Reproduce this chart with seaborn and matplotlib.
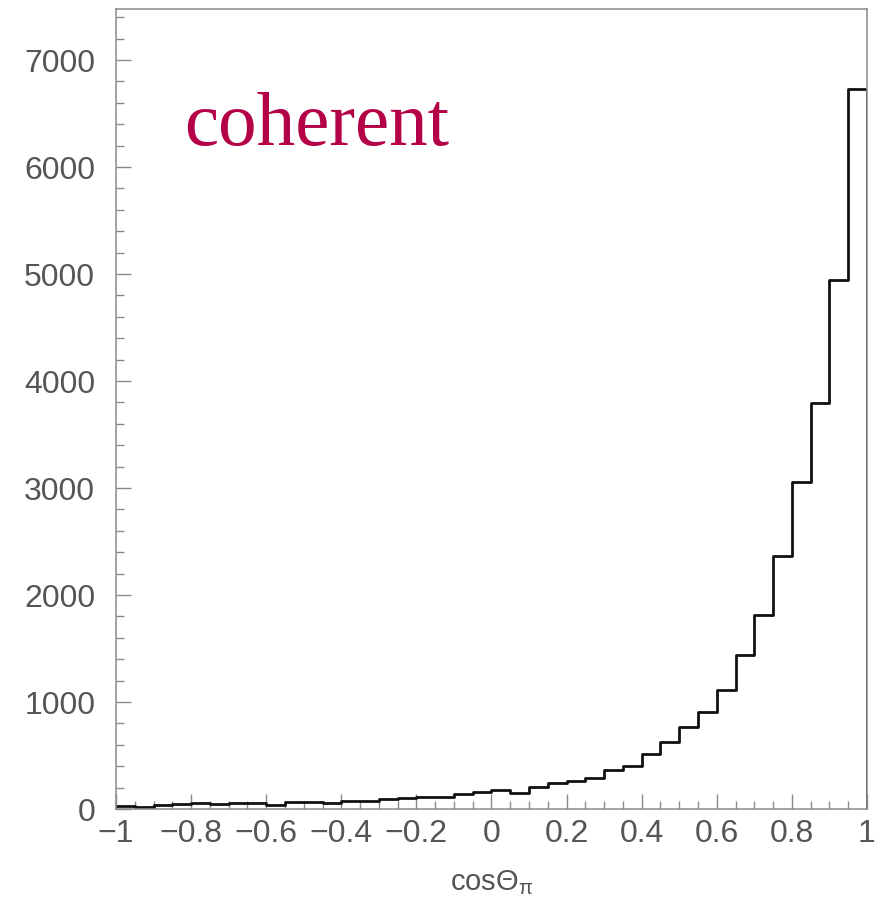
import numpy as np
import pandas as pd
import matplotlib
matplotlib.use("Agg")
import matplotlib.pyplot as plt
from matplotlib.ticker import MultipleLocator, FuncFormatter
import seaborn as sns

# Bin edges of cos(theta_pi): 40 bins of width 0.05 between -1 and 1
bin_edges = [round(v, 3) for v in np.linspace(-1.0, 1.0, 41)]

# Entries per bin
counts = [
    30, 18, 37, 43, 58, 43, 52, 52, 38, 68,
    68, 60, 72, 78, 98, 100, 112, 114, 137, 158,
    180, 152, 207, 242, 262, 292, 362, 398, 515, 625,
    763, 910, 1115, 1443, 1815, 2362, 3055, 3790, 4940, 6725,
]

x_ticks = [-1.0, -0.8, -0.6, -0.4, -0.2, 0.0, 0.2, 0.4, 0.6, 0.8, 1.0]
y_ticks = [0, 1000, 2000, 3000, 4000, 5000, 6000, 7000]

label_text = "coherent"
x_title = r"cos$\Theta_{\pi}$"

sns.set_style("ticks")
plt.rcParams["font.family"] = ["Liberation Sans", "DejaVu Sans"]
plt.rcParams["mathtext.fontset"] = "custom"
plt.rcParams["mathtext.rm"] = "Liberation Sans"
plt.rcParams["mathtext.it"] = "Liberation Sans"
plt.rcParams["axes.unicode_minus"] = True

axis_grey = "#8a8a8a"
text_grey = "#555555"

fig = plt.figure(figsize=(8.8, 8.99), dpi=100)
ax = fig.add_axes([0.1318, 0.1001, 0.8534, 0.8899])

edges = np.array(bin_edges)
centers = (edges[:-1] + edges[1:]) / 2
df = pd.DataFrame({"cos_theta": centers, "entries": counts})
sns.histplot(data=df, x="cos_theta", weights="entries", bins=bin_edges,
             element="step", fill=False, color="#111111", linewidth=2.0, ax=ax)
# close the outline at the upper edge of the last bin
ax.vlines(bin_edges[-1], 0, counts[-1], color="#111111", linewidth=2.0)

ax.set_xlim(-1, 1)
ax.set_ylim(0, 7477)

ax.set_xticks(x_ticks)
ax.set_yticks(y_ticks)
ax.xaxis.set_minor_locator(MultipleLocator(0.05))
ax.yaxis.set_minor_locator(MultipleLocator(200))


def fmt(v, pos):
    v = round(v, 1)
    if v == 0:
        return "0"
    return f"{v:g}".replace("-", "\u2212")


ax.xaxis.set_major_formatter(FuncFormatter(fmt))
ax.yaxis.set_major_formatter(FuncFormatter(lambda v, p: f"{int(v)}"))

ax.tick_params(axis="both", which="both", direction="in", color=axis_grey,
               width=1.0, top=False, right=False)
ax.tick_params(axis="both", which="major", length=10.8, labelsize=23,
               labelcolor=text_grey)
ax.tick_params(axis="both", which="minor", length=5.8)
ax.tick_params(axis="y", which="major", pad=15)
ax.tick_params(axis="x", which="major", pad=7)

for side in ["left", "right", "top", "bottom"]:
    ax.spines[side].set_visible(True)
    ax.spines[side].set_color(axis_grey)
    ax.spines[side].set_linewidth(1.1)

ax.set_ylabel("")
ax.set_xlabel(x_title, fontsize=21, color=text_grey, labelpad=14)

ax.text(0.0905, 0.83, label_text, transform=ax.transAxes,
        fontsize=55.5, color="#b40046", family="Liberation Serif",
        ha="left", va="baseline")

fig.savefig("out.png", dpi=100)
